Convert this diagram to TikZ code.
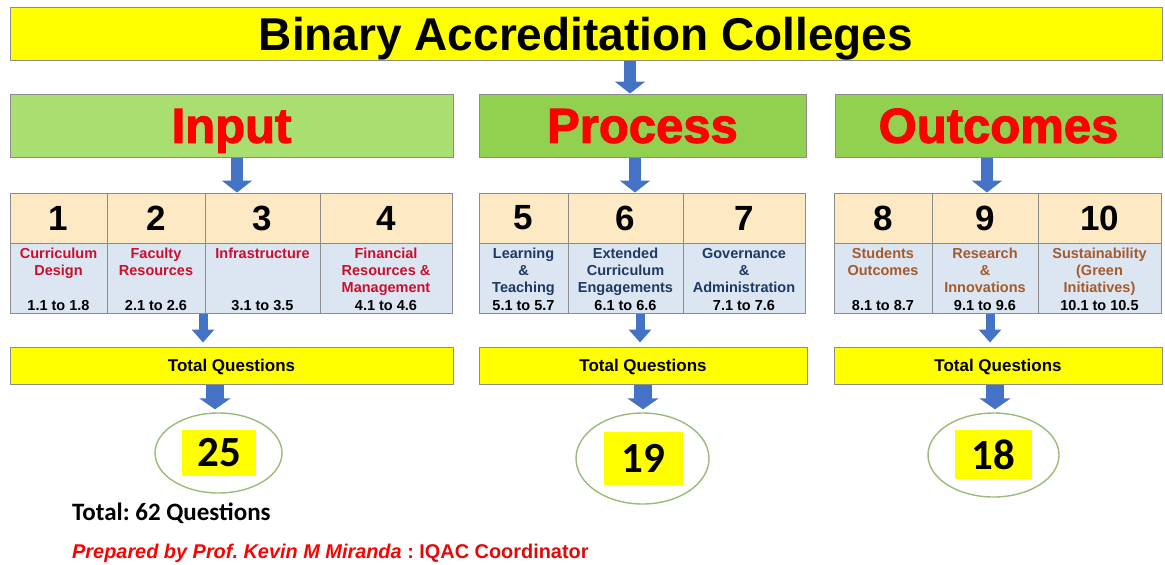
\documentclass[tikz,border=0pt]{standalone}
\usepackage{fontspec}
\setmainfont{Liberation Sans}
\newfontfamily\carl{Carlito}
\newfontfamily\heavyfont[FakeBold=2.2]{Liberation Sans Bold}
\usetikzlibrary{arrows.meta,shapes.geometric}
\frenchspacing
\definecolor{ttlyellow}{RGB}{255,255,0}
\definecolor{grnA}{RGB}{169,223,112}
\definecolor{grnB}{RGB}{146,208,80}
\definecolor{peach}{RGB}{253,233,196}
\definecolor{lblue}{RGB}{220,230,242}
\definecolor{bordergray}{RGB}{140,140,140}
\definecolor{arrblue}{RGB}{68,114,196}
\definecolor{inred}{RGB}{200,16,46}
\definecolor{prblue}{RGB}{31,56,100}
\definecolor{oubrown}{RGB}{165,90,42}
\definecolor{ellgreen}{RGB}{155,187,120}
\definecolor{hred}{RGB}{255,0,0}
\definecolor{dred}{RGB}{225,10,10}
\newcommand\tcell[4]{% name, xleft, xright, number
  \node[hdrcell, minimum width=#3-#2] (#1h) at ({(#2+#3)/2},218) {#4};
  \node[lowcell, minimum width=#3-#2] (#1l) at ({(#2+#3)/2},278) {};
}
\newcommand\ctext[6]{% cell, colour, l1, l2, l3, l4
  \node[ct,text=#2] (#1a) at (#1l.north |- L1) {#3};
  \node[ct,text=#2] (#1b) at (#1l.north |- L2) {#4};
  \node[ct,text=#2] (#1c) at (#1l.north |- L3) {#5};
  \node[ct] (#1d) at (#1l.north |- L4) {#6};
}
\begin{document}
\begin{tikzpicture}[x=1pt,y=-1pt,
  box/.style={rectangle, draw=bordergray, line width=1pt, inner sep=0pt},
  titlebox/.style={box, fill=ttlyellow, minimum width=1152, minimum height=53,
     font=\fontsize{46}{50}\selectfont\bfseries, text height=33, text depth=0},
  headbox/.style={box, minimum height=63, text=hred,
     font=\heavyfont\fontsize{49}{52}\selectfont, text height=34.5, text depth=0},
  hdrcell/.style={box, fill=peach, minimum height=50, font=\fontsize{35}{40}\selectfont\bfseries},
  lowcell/.style={box, fill=lblue, minimum height=70},
  ct/.style={anchor=base, inner sep=0pt, font=\fontsize{14.5}{17}\selectfont\bfseries},
  tqbox/.style={box, fill=ttlyellow, minimum height=37,
     font=\fontsize{17}{20}\selectfont\bfseries, text height=12.2, text depth=0},
  ell/.style={ellipse, draw=ellgreen, line width=1.4pt, inner sep=0pt},
  numbox/.style={rectangle, fill=ttlyellow, inner sep=0pt, font=\carl\fontsize{43}{46}\selectfont\bfseries},
  bigarr/.style={draw=arrblue, line width=12pt, -{Triangle[width=30pt,length=12pt]}},
  smallarr/.style={draw=arrblue, line width=9pt, -{Triangle[width=22pt,length=13pt]}, shorten >=4pt},
  widearr/.style={draw=arrblue, line width=18pt, -{Triangle[width=31pt,length=11pt]}, shorten >=3pt},
]
\useasboundingbox (0,0) rectangle (1165,565);
\fill[white] (0,0) rectangle (1165,565);
\coordinate (L1) at (0,258);
\coordinate (L2) at (0,275.3);
\coordinate (L3) at (0,292.6);
\coordinate (L4) at (0,310);

% title
\node[titlebox] (title) at (586,33.5) {Binary Accreditation Colleges};

% headings
\node[headbox, fill=grnA, minimum width=443] (inp) at (231.5,125.5) {Input};
\node[headbox, fill=grnB, minimum width=327] (proc) at (642.5,125.5) {Process};
\node[headbox, fill=grnB, minimum width=327] (outc) at (998.5,125.5) {Outcomes};

% tables
\tcell{c1}{10}{107}{1}
\tcell{c2}{107}{205}{2}
\tcell{c3}{205}{320}{3}
\tcell{c4}{320}{452}{4}
\tcell{c5}{479}{568}{5}
\tcell{c6}{568}{683}{6}
\tcell{c7}{683}{805}{7}
\tcell{c8}{834}{932}{8}
\tcell{c9}{932}{1038}{9}
\tcell{c10}{1038}{1161}{10}

\ctext{c1}{inred}{Curriculum}{Design}{}{1.1 to 1.8}
\ctext{c2}{inred}{Faculty}{Resources}{}{2.1 to 2.6}
\ctext{c3}{inred}{Infrastructure}{}{}{3.1 to 3.5}
\ctext{c4}{inred}{Financial}{Resources \&}{Management}{4.1 to 4.6}
\ctext{c5}{prblue}{Learning}{\&}{Teaching}{5.1 to 5.7}
\ctext{c6}{prblue}{Extended}{Curriculum}{Engagements}{6.1 to 6.6}
\ctext{c7}{prblue}{Governance}{\&}{Administration}{7.1 to 7.6}
\ctext{c8}{oubrown}{Students}{Outcomes}{}{8.1 to 8.7}
\ctext{c9}{oubrown}{Research}{\&}{Innovations}{9.1 to 9.6}
\ctext{c10}{oubrown}{Sustainability}{(Green}{Initiatives)}{10.1 to 10.5}

% total question boxes
\node[tqbox, minimum width=443] (tq1) at (231.5,365.5) {Total Questions};
\node[tqbox, minimum width=328] (tq2) at (643,365.5) {Total Questions};
\node[tqbox, minimum width=328] (tq3) at (998,365.5) {Total Questions};

% ellipses with totals
\node[ell, minimum width=127, minimum height=80] (e1) at (218.5,453) {};
\node[numbox, minimum width=74, minimum height=46] (n1) at (219,453) {25};
\node[ell, minimum width=133, minimum height=91] (e2) at (642.5,458.5) {};
\node[numbox, minimum width=79, minimum height=53] (n2) at (643.5,458.5) {19};
\node[ell, minimum width=131, minimum height=84] (e3) at (993.5,455) {};
\node[numbox, minimum width=77, minimum height=49] (n3) at (993.5,454.5) {18};

% footer texts
\node[anchor=base west, inner sep=0pt, font=\carl\fontsize{25}{28}\selectfont\bfseries] (tot) at (72,520) {Total: 62 Questions};
\node[anchor=base west, inner sep=0pt, font=\fontsize{19.9}{22}\selectfont\bfseries] (prep) at (72,558)
  {\textcolor{hred}{\itshape Prepared by Prof. Kevin M Miranda}\textcolor{dred}{~: IQAC Coordinator}};

% arrow x positions
\coordinate (a0) at (630,0);
\coordinate (a1) at (237,0);
\coordinate (a2) at (635,0);
\coordinate (a3) at (987,0);
\coordinate (b1) at (203,0);
\coordinate (b2) at (640,0);
\coordinate (b3) at (990,0);
\coordinate (d1) at (215,0);
\coordinate (d2) at (643,0);
\coordinate (d3) at (995,0);

% arrows
\draw[bigarr] (title.south -| a0) -- (proc.north -| a0);
\draw[bigarr] (inp.south -| a1) -- (c3h.north -| a1);
\draw[bigarr] (proc.south -| a2) -- (c6h.north -| a2);
\draw[bigarr] (outc.south -| a3) -- (c9h.north -| a3);
\draw[smallarr] (c2l.south -| b1) -- (tq1.north -| b1);
\draw[smallarr] (c6l.south -| b2) -- (tq2.north -| b2);
\draw[smallarr] (c9l.south -| b3) -- (tq3.north -| b3);
\draw[widearr] (tq1.south -| d1) -- (e1.north -| d1);
\draw[widearr] (tq2.south -| d2) -- (e2.north -| d2);
\draw[widearr] (tq3.south -| d3) -- (e3.north -| d3);
\end{tikzpicture}
\end{document}
